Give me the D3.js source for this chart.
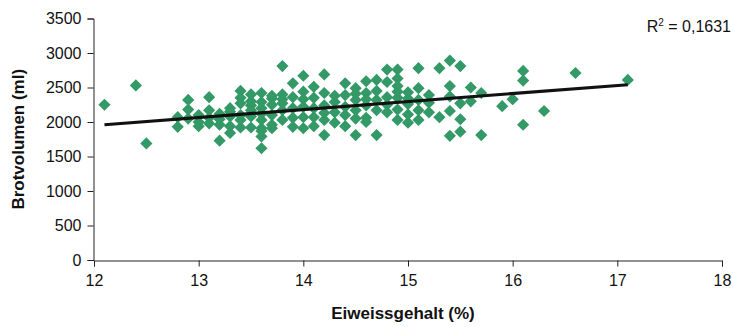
<!DOCTYPE html>
<html>
<head>
<meta charset="utf-8">
<script src="https://cdn.jsdelivr.net/npm/d3@7"></script>
<style>
  body { margin: 0; background: #fff; }
  svg { display: block; font-family: 'Liberation Sans', Arial, sans-serif; }
</style>
</head>
<body>
<svg id="chart" width="733" height="327"></svg>
<script>
// Eiweissgehalt (%) der Proben
const proteinPct = [
  12.1, 12.4, 12.5, 12.8, 12.8, 12.9, 12.9, 12.9,
  13.0, 13.0, 13.0, 13.1, 13.1, 13.1, 13.1, 13.2, 13.2, 13.2, 13.2,
  13.3, 13.3, 13.3, 13.3, 13.3, 13.4, 13.4, 13.4, 13.4, 13.4, 13.4,
  13.5, 13.5, 13.5, 13.5, 13.5, 13.5,
  13.6, 13.6, 13.6, 13.6, 13.6, 13.6, 13.6, 13.6, 13.6,
  13.7, 13.7, 13.7, 13.7, 13.7, 13.7, 13.8, 13.8, 13.8, 13.8, 13.8, 13.8,
  13.9, 13.9, 13.9, 13.9, 13.9, 14.0, 14.0, 14.0, 14.0, 14.0, 14.0,
  14.1, 14.1, 14.1, 14.1, 14.1, 14.2, 14.2, 14.2, 14.2, 14.2, 14.2,
  14.3, 14.3, 14.3, 14.3, 14.4, 14.4, 14.4, 14.4, 14.4,
  14.5, 14.5, 14.5, 14.5, 14.5, 14.5, 14.6, 14.6, 14.6, 14.6, 14.6, 14.6,
  14.7, 14.7, 14.7, 14.7, 14.7, 14.8, 14.8, 14.8, 14.8, 14.8,
  14.9, 14.9, 14.9, 14.9, 14.9, 14.9, 14.9, 15.0, 15.0, 15.0, 15.0, 15.0,
  15.1, 15.1, 15.1, 15.1, 15.1, 15.2, 15.2, 15.2, 15.3, 15.3,
  15.4, 15.4, 15.4, 15.4, 15.4, 15.5, 15.5, 15.5, 15.5, 15.6, 15.6,
  15.7, 15.7, 15.9, 16.0, 16.1, 16.1, 16.1, 16.3, 16.6, 17.1
]

// Brotvolumen (ml), gleiche Reihenfolge
const volumeMl = [
  2250, 2530, 1690, 2070, 1930, 2320, 2180, 2050,
  2100, 1940, 2000, 2360, 2170, 1980, 2060, 2120, 1960, 1730, 2040,
  2200, 2080, 1940, 1840, 2150, 2450, 2270, 2100, 1920, 2350, 2030,
  2400, 2240, 2080, 1920, 2170, 2300,
  2420, 2290, 2120, 1910, 1790, 1620, 2200, 2030, 1870,
  2340, 1910, 2250, 2100, 1960, 2380, 2810, 2400, 2270, 2170, 2030, 2330,
  2560, 2360, 2200, 2060, 1930, 2670, 2440, 2220, 2070, 1910, 2330,
  2510, 2350, 2200, 2070, 1940, 2690, 2420, 2240, 2030, 1810, 2130,
  2290, 2140, 1990, 2380, 2560, 2390, 2220, 2100, 1940,
  2490, 2320, 2170, 1810, 2050, 2410, 2590, 2420, 2240, 2060, 2000, 2330,
  2610, 2320, 2170, 1810, 2450, 2760, 2580, 2360, 2140, 2250,
  2760, 2630, 2520, 2350, 2030, 2180, 2440, 2430, 2260, 2110, 1990, 2340,
  2780, 2490, 2320, 2170, 2030, 2390, 2140, 2280, 2780, 2070,
  2890, 2520, 2370, 2160, 1800, 2810, 2270, 2040, 1860, 2500, 2300,
  2420, 1810, 2230, 2330, 2740, 2600, 1960, 2160, 2710, 2610
]

// lineare Trendlinie (Endpunkte)
const trendX = [12.1, 17.1]
const trendY = [1960, 2540]

const xTicks = [12, 13, 14, 15, 16, 17, 18]
const yTicks = [0, 500, 1000, 1500, 2000, 2500, 3000, 3500]
const rSquaredLabel = '0,1631'

const width = 733
const height = 327
const margin = { top: 18.5, right: 11, bottom: 67, left: 94 }

const svg = d3.select('#chart')

const x = d3.scaleLinear().domain([12, 18]).range([margin.left, width - margin.right])
const y = d3.scaleLinear().domain([0, 3500]).range([height - margin.bottom, margin.top])

// Y-Achse
const yAxis = svg.append('g')
  .attr('transform', `translate(${margin.left - 0.5},0)`)
  .call(d3.axisLeft(y).tickValues(yTicks).tickSize(6).tickPadding(6).tickFormat(d3.format('d')))
yAxis.select('.domain').attr('stroke', '#222')
yAxis.selectAll('.tick line').attr('stroke', '#222')
yAxis.selectAll('.tick text')
  .attr('font-size', 16)
  .attr('fill', '#111')
  .attr('font-family', "'Liberation Sans', Arial, sans-serif")

// X-Achse
const xAxis = svg.append('g')
  .attr('transform', `translate(0,${height - margin.bottom + 0.5})`)
  .call(d3.axisBottom(x).tickValues(xTicks).tickSize(6).tickPadding(8).tickFormat(d3.format('d')))
xAxis.select('.domain').attr('stroke', '#222')
xAxis.selectAll('.tick line').attr('stroke', '#222')
xAxis.selectAll('.tick text')
  .attr('font-size', 16)
  .attr('fill', '#111')
  .attr('font-family', "'Liberation Sans', Arial, sans-serif")

// Punkte (Rauten)
const diamond = d3.symbol(d3.symbolSquare, 74)
svg.append('g')
  .selectAll('path')
  .data(d3.range(proteinPct.length))
  .enter()
  .append('path')
  .attr('d', diamond)
  .attr('transform', i => `translate(${x(proteinPct[i])},${y(volumeMl[i])}) rotate(45)`)
  .attr('fill', '#339966')

// Trendlinie
svg.append('line')
  .attr('x1', x(trendX[0]))
  .attr('y1', y(trendY[0]))
  .attr('x2', x(trendX[1]))
  .attr('y2', y(trendY[1]))
  .attr('stroke', '#111')
  .attr('stroke-width', 3.2)

// Achsentitel
svg.append('text')
  .attr('transform', `translate(24,${(margin.top + height - margin.bottom) / 2}) rotate(-90)`)
  .attr('text-anchor', 'middle')
  .attr('font-size', 17)
  .attr('font-weight', 'bold')
  .attr('fill', '#111')
  .text('Brotvolumen (ml)')

svg.append('text')
  .attr('x', 403)
  .attr('y', 319)
  .attr('text-anchor', 'middle')
  .attr('font-size', 17)
  .attr('font-weight', 'bold')
  .attr('fill', '#111')
  .text('Eiweissgehalt (%)')

// R² Beschriftung
const r2 = svg.append('text')
  .attr('x', 731)
  .attr('y', 32)
  .attr('text-anchor', 'end')
  .attr('font-size', 16)
  .attr('fill', '#111')
r2.append('tspan').text('R')
r2.append('tspan').attr('font-size', 10).attr('dy', -6).text('2')
r2.append('tspan').attr('dy', 6).text(' = ' + rSquaredLabel)
</script>
</body>
</html>
